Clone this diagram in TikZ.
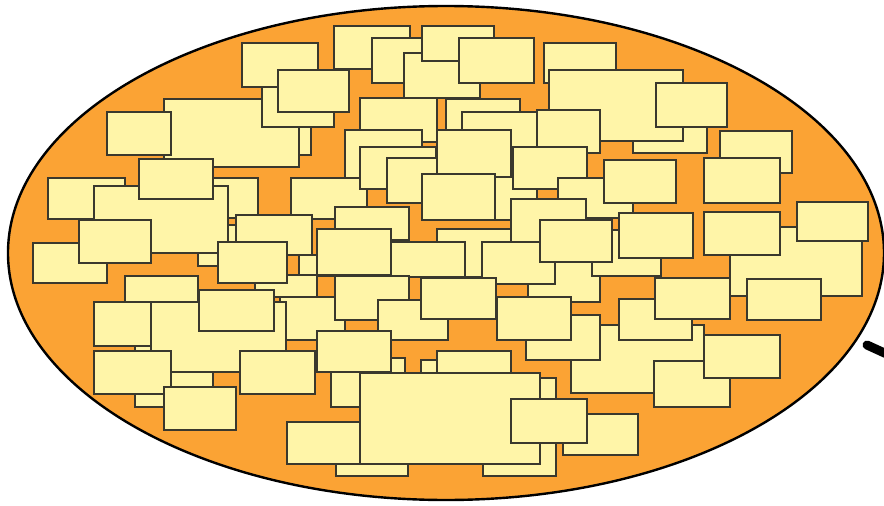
\documentclass[tikz,border=0pt]{standalone}
\usetikzlibrary{shapes.geometric}
\definecolor{ovalfill}{HTML}{FBA334}
\definecolor{cardfill}{HTML}{FFF5A8}
\definecolor{halo}{HTML}{6E6A40}
\tikzset{
  card/.style={draw=black!85, line width=1.2pt, fill=cardfill, inner sep=0pt, outer sep=0pt, anchor=north west,
    postaction={draw=halo, line width=2.8pt, opacity=0.28}},
  oval/.style={ellipse, draw=black, line width=2.4pt, fill=ovalfill, inner sep=0pt},
  stub/.style={line width=9pt, line cap=round, draw=black}
}
\newcommand\crd[5]{\node[card, minimum width={#4-#2}, minimum height={#5-#3}] (#1) at (#2,#3) {};}
\begin{document}
\begin{tikzpicture}[x=1pt,y=-1pt]
\useasboundingbox (0,0) rectangle (884,506);
\node[oval, minimum width=876pt, minimum height=494pt] (oval) at (446,253) {};
% group 1 (top)
\crd{a1}{334}{26}{410}{69}
\crd{a3}{372}{38}{446}{83}
\crd{a4}{404}{53}{480}{98}
\crd{a2}{422}{26}{494}{61}
\crd{a5}{459}{38}{534}{83}
\crd{a6}{544}{43}{616}{83}
\crd{a9}{633}{110}{707}{153}
\crd{a7}{549}{70}{683}{141}
\crd{a8}{656}{83}{727}{127}
\crd{a10}{720}{131}{792}{173}
% group 2 (left top)
\crd{b4}{250}{120}{311}{155}
\crd{b5}{164}{99}{299}{167}
\crd{b2}{262}{87}{334}{127}
\crd{b1}{242}{43}{318}{87}
\crd{b3}{278}{70}{349}{112}
\crd{b6}{107}{112}{171}{155}
\crd{b8}{48}{178}{125}{219}
\crd{b10}{185}{178}{258}{218}
\crd{b15}{198}{225}{240}{266}
\crd{b9}{94}{186}{228}{253}
\crd{b7}{139}{159}{213}{199}
\crd{b13}{33}{243}{107}{283}
\crd{b12}{79}{220}{151}{263}
% group 3
\crd{c1}{291}{178}{367}{219}
\crd{c2}{335}{207}{409}{240}
\crd{c9}{299}{255}{335}{276}
\crd{c3}{317}{229}{391}{275}
\crd{b11}{236}{215}{312}{255}
\crd{c10}{255}{275}{317}{297}
\crd{b14}{218}{242}{287}{283}
\crd{c11}{280}{297}{345}{340}
\crd{b16}{125}{276}{198}{318}
\crd{b22}{135}{340}{213}{407}
\crd{b18}{94}{302}{151}{346}
\crd{b19}{151}{302}{286}{372}
\crd{b17}{199}{290}{274}{331}
\crd{b20}{94}{351}{171}{394}
\crd{b21}{240}{351}{315}{394}
\crd{b23}{164}{387}{236}{430}
% group 4
\crd{d1}{360}{98}{437}{142}
\crd{d5}{345}{130}{422}{178}
\crd{d6}{360}{147}{436}{189}
\crd{d7}{387}{158}{462}{203}
\crd{d2}{446}{99}{520}{140}
\crd{d3}{462}{112}{537}{220}
\crd{d4}{537}{110}{600}{153}
\crd{d8}{437}{130}{511}{177}
\crd{d9}{422}{174}{495}{220}
\crd{d10}{513}{147}{587}{189}
\crd{d11}{558}{178}{633}{218}
\crd{d12}{604}{160}{676}{203}
\crd{d13}{704}{158}{780}{203}
% group 5
\crd{c5}{437}{229}{511}{277}
\crd{c4}{391}{242}{465}{277}
\crd{c26}{528}{255}{600}{302}
\crd{c7}{511}{199}{586}{253}
\crd{c6}{482}{242}{555}{284}
\crd{e1}{592}{230}{661}{276}
\crd{c8}{540}{220}{612}{262}
\crd{e2}{619}{213}{693}{258}
\crd{c12}{335}{276}{409}{320}
\crd{c14}{378}{300}{448}{340}
\crd{c13}{421}{278}{496}{319}
\crd{e9}{571}{325}{704}{393}
\crd{c25}{526}{315}{600}{360}
\crd{c15}{497}{297}{571}{340}
\crd{c17}{331}{358}{405}{407}
\crd{c27}{421}{360}{470}{380}
\crd{c18}{437}{351}{511}{390}
\crd{c16}{317}{331}{391}{372}
\crd{c21}{336}{430}{408}{476}
\crd{c22}{483}{378}{556}{476}
\crd{c19}{360}{373}{540}{464}
\crd{c20}{287}{422}{360}{464}
\crd{c24}{563}{414}{638}{455}
\crd{c23}{511}{399}{587}{443}
% group 6 (right)
\crd{e5}{730}{227}{862}{296}
\crd{e3}{704}{212}{780}{255}
\crd{e4}{797}{202}{868}{241}
\crd{e7}{747}{279}{821}{320}
\crd{e8}{619}{299}{692}{340}
\crd{e6}{655}{278}{730}{319}
\crd{e11}{654}{361}{730}{407}
\crd{e10}{704}{335}{780}{378}
% stub
\coordinate (s1) at (867,345);
\coordinate (s2) at (902,361);
\draw[stub] (s1) -- (s2);
\end{tikzpicture}
\end{document}
